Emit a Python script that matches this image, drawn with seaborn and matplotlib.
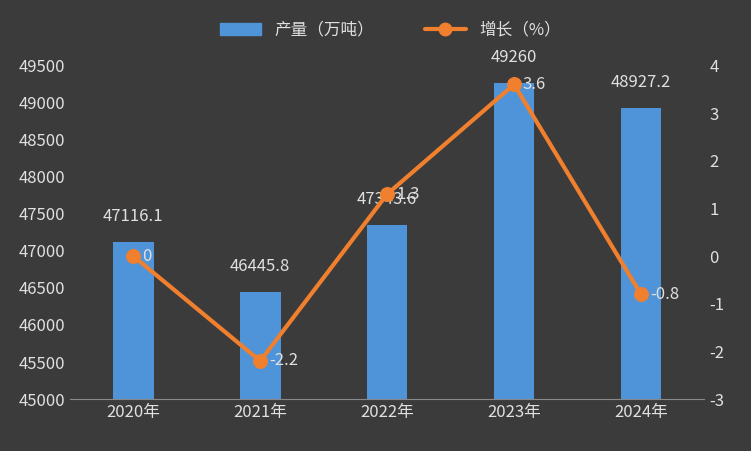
import matplotlib
matplotlib.use("Agg")
import matplotlib.pyplot as plt
import seaborn as sns
import pandas as pd
from matplotlib.lines import Line2D
from matplotlib.patches import Patch

years = ["2020年", "2021年", "2022年", "2023年", "2024年"]
output = [47116.1, 46445.8, 47343.6, 49260, 48927.2]
growth = [0, -2.2, 1.3, 3.6, -0.8]
growth_labels = ["0", "-2.2", "1.3", "3.6", "-0.8"]
output_labels = ["47116.1", "46445.8", "47343.6", "49260", "48927.2"]

sns.set_style("dark")
plt.rcParams['font.family'] = ['Noto Sans CJK SC', 'DejaVu Sans']
plt.rcParams['axes.unicode_minus'] = False

df = pd.DataFrame({"year": years, "output": output, "growth": growth})

fig = plt.figure(figsize=(7.51, 4.51), dpi=100)
fig.patch.set_facecolor("#3b3b3b")
ax = fig.add_axes([0.093, 0.115, 0.845, 0.74])
ax.set_facecolor("#3b3b3b")
sns.barplot(data=df, x="year", y="output", color="#4f93d8", width=0.32, ax=ax,
            saturation=1, linewidth=0, edgecolor="none")
ax.set_ylim(45000, 49500)
ax.set_yticks(range(45000, 49501, 500))
ax.set_xlabel("")
ax.set_ylabel("")
for i, v in enumerate(output):
    ax.text(i, v + 230, output_labels[i], ha="center", va="bottom", color="#e0e0e0", fontsize=12)

ax2 = ax.twinx()
sns.lineplot(x=list(range(len(years))), y=growth, ax=ax2, color="#f07f2e", lw=3,
             marker="o", markersize=10, markeredgecolor="#f07f2e")
ax2.set_ylim(-3, 4)
ax2.set_yticks(range(-3, 5))
for i, g in enumerate(growth):
    ax2.text(i + 0.07, g, growth_labels[i], ha="left", va="center", color="#e0e0e0", fontsize=12)

for a in (ax, ax2):
    a.tick_params(colors="#e0e0e0", labelsize=12, length=0)
    a.grid(False)
    for s in a.spines.values():
        s.set_visible(False)
ax.spines["bottom"].set_visible(True)
ax.spines["bottom"].set_color("#888888")
ax.set_xlim(-0.5, 4.5)

handles = [Patch(color="#4f93d8", label="产量（万吨）"),
           Line2D([], [], color="#f07f2e", lw=3, marker="o", markersize=9, label="增长（%）")]
fig.legend(handles=handles, loc="upper center", bbox_to_anchor=(0.52, 0.985), ncol=2,
           frameon=False, labelcolor="#e0e0e0", fontsize=12, handlelength=2.5, columnspacing=3)

fig.savefig("out.png", dpi=100, facecolor=fig.get_facecolor())
